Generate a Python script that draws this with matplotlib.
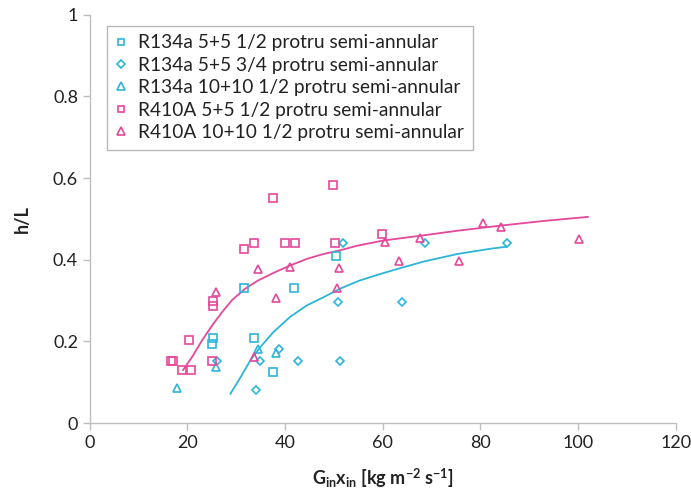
import matplotlib
matplotlib.use("Agg")
import matplotlib.pyplot as plt

plt.rcParams['font.family'] = ['Lato', 'DejaVu Sans']
plt.rcParams['mathtext.fontset'] = 'custom'
plt.rcParams['mathtext.rm'] = 'Lato'
plt.rcParams['mathtext.bf'] = 'Lato:bold'
plt.rcParams['mathtext.it'] = 'Lato:italic'

CYAN = '#2BB5D8'
PINK = '#E5489B'

# R134a 5+5 1/2 protru semi-annular
r134_55_half_x = [50.4, 31.5, 41.9, 25.3, 25.1, 33.6, 37.6]
r134_55_half_y = [0.409, 0.332, 0.332, 0.208, 0.194, 0.208, 0.126]

# R134a 5+5 3/4 protru semi-annular
r134_55_3q_x = [51.9, 50.9, 26.1, 34.9, 38.8, 42.6, 51.3, 34.0, 68.6, 85.4, 63.9]
r134_55_3q_y = [0.441, 0.297, 0.153, 0.153, 0.181, 0.153, 0.153, 0.081, 0.440, 0.440, 0.297]

# R134a 10+10 1/2 protru semi-annular
r134_1010_x = [17.8, 25.8, 34.4, 38.2]
r134_1010_y = [0.086, 0.138, 0.181, 0.171]

# R410A 5+5 1/2 protru semi-annular
r410_55_x = [49.8, 37.6, 31.5, 33.6, 39.9, 42.0, 50.3, 59.9, 25.2, 25.2, 20.3,
             16.6, 17.1, 25.1, 18.8, 20.7]
r410_55_y = [0.583, 0.552, 0.427, 0.441, 0.441, 0.441, 0.441, 0.463, 0.298, 0.287,
             0.203, 0.153, 0.153, 0.153, 0.130, 0.130]

# R410A 10+10 1/2 protru semi-annular
r410_1010_x = [25.8, 34.4, 40.9, 51.0, 50.7, 38.1, 60.5, 33.7, 63.3, 67.7, 80.5,
               84.3, 75.7, 100.2]
r410_1010_y = [0.322, 0.377, 0.383, 0.379, 0.332, 0.307, 0.444, 0.163, 0.398, 0.453,
               0.491, 0.481, 0.398, 0.451]

# trend curves, points
pink_fit_x = [19.1, 21.0, 23.0, 25.1, 27.1, 29.1, 31.8, 34.4, 38.0, 41.0, 44.4,
              47.8, 51.5, 54.6, 60.0, 67.8, 75.2, 84.4, 92.9, 102.0]
pink_fit_y = [0.130, 0.163, 0.203, 0.240, 0.272, 0.301, 0.329, 0.349, 0.370, 0.386,
              0.402, 0.414, 0.424, 0.434, 0.447, 0.459, 0.471, 0.484, 0.495, 0.505]
cyan_fit_x = [28.8, 30.9, 32.9, 34.9, 37.6, 41.0, 44.4, 47.8, 51.2, 55.2, 60.0,
              64.0, 68.5, 75.2, 82.0, 85.4]
cyan_fit_y = [0.072, 0.113, 0.154, 0.186, 0.223, 0.260, 0.288, 0.308, 0.329, 0.349,
              0.367, 0.381, 0.396, 0.414, 0.427, 0.432]

fig = plt.figure(figsize=(6.91, 4.92), dpi=100)
ax = fig.add_axes([0.130, 0.140, 0.848, 0.830])

ax.plot(pink_fit_x, pink_fit_y, color=PINK, lw=1.3, zorder=2, solid_joinstyle='round')
ax.plot(cyan_fit_x, cyan_fit_y, color=CYAN, lw=1.3, zorder=2, solid_joinstyle='round')

mk = dict(linestyle='none', mfc='none', mew=1.2, zorder=3)
ax.plot(r134_55_half_x, r134_55_half_y, marker='s', ms=5.5, mec=CYAN,
        label='R134a 5+5 1/2 protru semi-annular', **mk)
ax.plot(r134_55_3q_x, r134_55_3q_y, marker='D', ms=4.3, mec=CYAN,
        label='R134a 5+5 3/4 protru semi-annular', **mk)
ax.plot(r134_1010_x, r134_1010_y, marker='^', ms=6, mec=CYAN,
        label='R134a 10+10 1/2 protru semi-annular', **mk)
ax.plot(r410_55_x, r410_55_y, marker='s', ms=5.5, mec=PINK,
        label='R410A 5+5 1/2 protru semi-annular', **mk)
ax.plot(r410_1010_x, r410_1010_y, marker='^', ms=6, mec=PINK,
        label='R410A 10+10 1/2 protru semi-annular', **mk)

ax.set_xlim(0, 120)
ax.set_ylim(0, 1)
ax.set_xticks([0, 20, 40, 60, 80, 100, 120])
ax.set_yticks([0, 0.2, 0.4, 0.6, 0.8, 1])
ax.set_yticklabels(['0', '0.2', '0.4', '0.6', '0.8', '1'])

for s in ['top', 'right']:
    ax.spines[s].set_visible(False)
for s in ['left', 'bottom']:
    ax.spines[s].set_color('#BFBFBF')
    ax.spines[s].set_linewidth(1.0)
ax.tick_params(colors='#BFBFBF', labelcolor='#222222', labelsize=13, length=5, width=1.0)

ax.set_xlabel(r'G$_{\mathbf{in}}$x$_{\mathbf{in}}$ [kg m$^{\mathbf{-2}}$ s$^{\mathbf{-1}}$]',
              fontsize=13, fontweight='bold', color='#222222', labelpad=11)
ax.set_ylabel('h/L', fontsize=13, fontweight='bold', color='#222222', labelpad=16)

leg = ax.legend(loc='upper left', bbox_to_anchor=(0.029, 0.973), borderaxespad=0,
                fontsize=13.8, frameon=True, fancybox=False, handlelength=0.6,
                handletextpad=0.6, labelspacing=0.28, borderpad=0.45, markerscale=0.85)
leg.get_frame().set_edgecolor('#A6A6A6')
leg.get_frame().set_linewidth(1.0)
for t in leg.get_texts():
    t.set_color('#222222')

fig.savefig('out.png', dpi=100)
